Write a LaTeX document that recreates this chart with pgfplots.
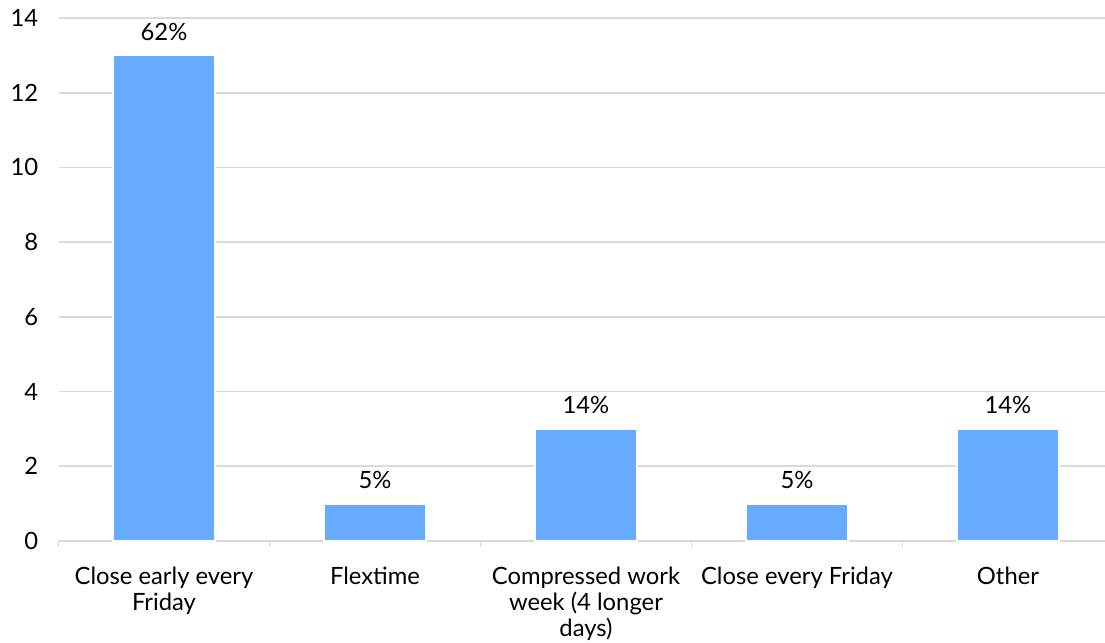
\documentclass[border=0pt]{standalone}
\usepackage{fontspec}
\setmainfont{Lato}
\usepackage{pgfplots}
\pgfplotsset{compat=1.18}
\definecolor{barblue}{RGB}{102,171,255}
\definecolor{gridgray}{RGB}{217,217,217}
\begin{document}
\fontsize{11.9pt}{13pt}\selectfont
\begin{tikzpicture}
\useasboundingbox (0,0) rectangle (552.5pt,321.5pt);
\begin{axis}[
  at={(29.25pt,51pt)}, anchor=south west,
  scale only axis,
  width=523.25pt, height=261.5pt,
  xmin=-0.5, xmax=4.46,
  ymin=0, ymax=14,
  ytick={0,2,...,14},
  xtick={0,1,2,3,4},
  xticklabels={{Close early every\\Friday}, Flextime, {Compressed work\\week (4 longer\\days)}, Close every Friday, Other},
  minor xtick={-0.5,0.5,1.5,2.5,3.5},
  axis x line*=bottom,
  axis y line*=left,
  y axis line style={draw=none},
  x axis line style={draw=gridgray, line width=0.8pt},
  ymajorgrids,
  grid style={gridgray, line width=0.8pt},
  major tick length=0pt,
  minor tick length=3pt,
  tick align=outside,
  minor tick style={gridgray, line width=0.8pt},
  major tick style={draw=none},
  /pgf/number format/assume math mode=true,
  tick label style={font=\fontsize{11.9pt}{13pt}\selectfont, text=black},
  yticklabel style={anchor=east, xshift=-6pt},
  xticklabel style={align=center, anchor=north, yshift=-9pt},
  ybar, bar width=0.483,
  bar shift=0pt,
  point meta=explicit symbolic,
  nodes near coords={\pgfplotspointmeta},
  nodes near coords style={font=\fontsize{11.9pt}{13pt}\selectfont, text=black, yshift=3pt},
  clip=false,
]
\addplot[fill=barblue, draw=white, line width=1pt] coordinates {
  (0,13) [62\%]
  (1,1) [5\%]
  (2,3) [14\%]
  (3,1) [5\%]
  (4,3) [14\%]
};
\end{axis}
\end{tikzpicture}
\end{document}
